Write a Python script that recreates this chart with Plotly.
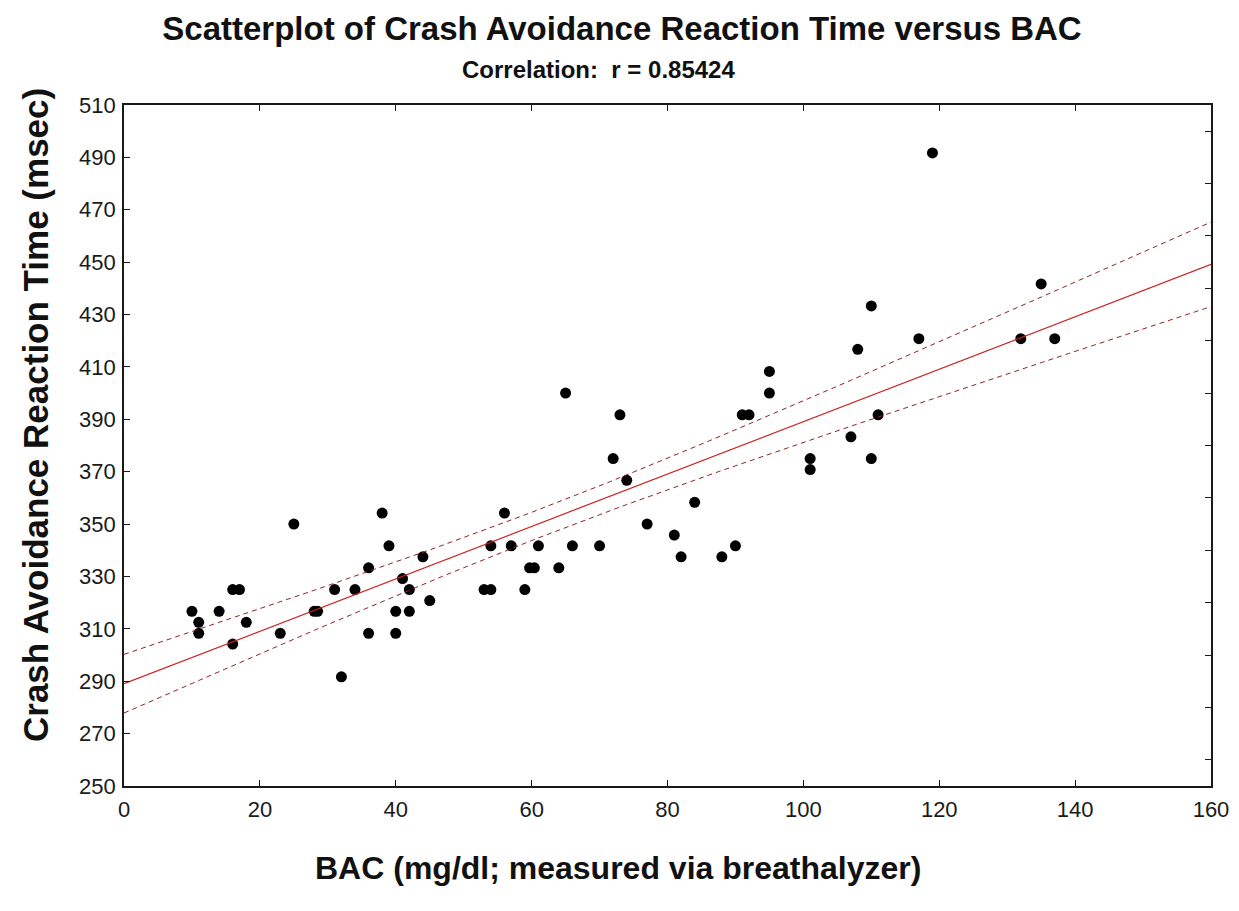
"""Crash avoidance reaction time vs BAC scatterplot with fitted line and 95% band."""

import numpy as np
import plotly.graph_objects as go

# ─── Data ───────────────────────────────────────────────────────────────── #

bac = [
    10, 11, 11, 14, 16, 17, 16, 18, 23, 25,
    28, 28.5, 31, 32, 34, 36, 36, 38, 39, 40,
    40, 41, 42, 42, 44, 45, 53, 54, 54, 56,
    57, 59, 59.7, 60.4, 61, 64, 65, 66, 70, 72,
    73, 74, 77, 81, 82, 84, 88, 90, 91, 92,
    95, 95, 101, 101, 107, 108, 110, 110, 111, 117,
    119, 132, 135, 137,
]
reaction_ms = [
    316.7, 312.5, 308.3, 316.7, 325.0, 325.0, 304.2, 312.5, 308.3, 350.0,
    316.7, 316.7, 325.0, 291.7, 325.0, 333.3, 308.3, 354.2, 341.7, 316.7,
    308.3, 329.2, 325.0, 316.7, 337.5, 320.8, 325.0, 325.0, 341.7, 354.2,
    341.7, 325.0, 333.3, 333.3, 341.7, 333.3, 400.0, 341.7, 341.7, 375.0,
    391.7, 366.7, 350.0, 345.8, 337.5, 358.3, 337.5, 341.7, 391.7, 391.7,
    408.3, 400.0, 375.0, 370.8, 383.3, 416.7, 433.3, 375.0, 391.7, 420.8,
    491.7, 420.8, 441.7, 420.8,
]

x_ticks = [0, 20, 40, 60, 80, 100, 120, 140, 160]
y_ticks = list(range(250, 511, 20))
y_ticks_right = list(range(260, 501, 20))

FONT = "Arial, Liberation Sans, sans-serif"

# ─── Least-squares fit and 95% confidence band for the mean ─────────────── #

x = np.array(bac, dtype=float)
y = np.array(reaction_ms, dtype=float)
n = len(x)
slope, intercept = np.polyfit(x, y, 1)
resid = y - (intercept + slope * x)
s = np.sqrt(np.sum(resid**2) / (n - 2))
sxx = np.sum((x - x.mean()) ** 2)
t_crit = 1.999  # t(0.975, df ~ 62)

x_line = np.linspace(0, 160, 161)
y_fit = intercept + slope * x_line
half = t_crit * s * np.sqrt(1.0 / n + (x_line - x.mean()) ** 2 / sxx)

# ─── Figure ─────────────────────────────────────────────────────────────── #

# plot area in pixels
TOP, BOTTOM = 97, 778
PLOT_H = BOTTOM - TOP
LEFT, RIGHT = 116, 1203
PLOT_W = RIGHT - LEFT

fig = go.Figure()

for band in (y_fit + half, y_fit - half):
    fig.add_trace(
        go.Scatter(
            x=x_line, y=band, mode="lines", yaxis="y2",
            line=dict(color="#8e2424", width=1, dash="5px,4px"),
            hoverinfo="skip", showlegend=False,
        )
    )
fig.add_trace(
    go.Scatter(
        x=x_line, y=y_fit, mode="lines", yaxis="y2",
        line=dict(color="#cc2020", width=1.2),
        hoverinfo="skip", showlegend=False,
    )
)
fig.add_trace(
    go.Scatter(
        x=bac, y=reaction_ms, mode="markers",
        marker=dict(color="black", size=11),
        showlegend=False,
    )
)

axis_common = dict(
    showgrid=False, zeroline=False, showline=True,
    linecolor="#1a1a1a", linewidth=1.6,
    ticks="inside", ticklen=6, tickwidth=1, tickcolor="#1a1a1a",
    tickfont=dict(family=FONT, size=22, color="#1a1a1a"),
)

fig.update_layout(
    width=1239, height=911,
    paper_bgcolor="white", plot_bgcolor="white",
    margin=dict(l=LEFT, r=1239 - RIGHT, t=TOP, b=911 - BOTTOM),
    title=dict(
        text="Scatterplot of Crash Avoidance Reaction Time versus BAC",
        font=dict(family=FONT, size=33, color="#111", weight="bold"),
        x=614 / 1239, xanchor="center", xref="container",
        y=1 - 20 / 911, yanchor="middle", yref="container",
    ),
    xaxis=dict(
        **axis_common, range=[0, 160], tickvals=x_ticks, mirror="ticks",
        ticklabelstandoff=3,
    ),
    yaxis=dict(
        **axis_common, range=[250, 510], tickvals=y_ticks, ticklabelstandoff=2,
    ),
    yaxis2=dict(
        **axis_common, range=[250, 510], tickvals=y_ticks_right,
        overlaying="y", side="right", showticklabels=False,
    ),
    annotations=[
        dict(
            text="Correlation:  r = 0.85424",
            font=dict(family=FONT, size=24, color="#111", weight="bold"),
            xref="paper", yref="paper",
            x=(590 - LEFT) / PLOT_W, y=1 + (TOP - 61) / PLOT_H,
            xanchor="center", yanchor="middle", showarrow=False,
        ),
        dict(
            text="BAC (mg/dl; measured via breathalyzer)",
            font=dict(family=FONT, size=32, color="#111", weight="bold"),
            xref="paper", yref="paper",
            x=(610 - LEFT) / PLOT_W, y=-(860 - BOTTOM) / PLOT_H,
            xanchor="center", yanchor="middle", showarrow=False,
        ),
        dict(
            text="Crash Avoidance Reaction Time (msec)",
            font=dict(family=FONT, size=35, color="#111", weight="bold"),
            textangle=-90,
            xref="paper", yref="paper",
            x=(27 - LEFT) / PLOT_W, y=(BOTTOM - 407) / PLOT_H,
            xanchor="center", yanchor="middle", showarrow=False,
        ),
    ],
)

fig.write_html("out.html")
